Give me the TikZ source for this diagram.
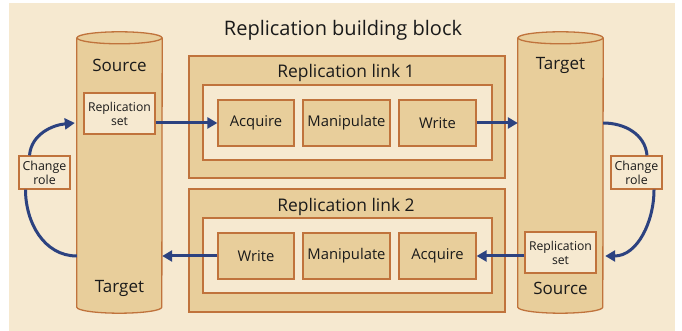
\documentclass[tikz,border=0pt]{standalone}
\usepackage{fontspec}
\setmainfont{Open Sans}
\usetikzlibrary{arrows.meta,calc}
\definecolor{paper}{HTML}{F6E9D0}
\definecolor{tan}{HTML}{E8CE9B}
\definecolor{rim}{HTML}{C0733C}
\definecolor{navy}{HTML}{2C4280}
\definecolor{ink}{HTML}{1A1A1A}
\begin{document}
\begin{tikzpicture}[x=1pt,y=1pt,
  every node/.style={text=ink, inner sep=0pt},
  cylbody/.style={minimum width=85pt, minimum height=269pt},
  cyl/.style={draw=rim, fill=tan, line width=1.3pt},
  outerbox/.style={draw=rim, fill=tan, line width=1.3pt, minimum width=316pt},
  innerbox/.style={draw=rim, fill=paper, line width=1.3pt, minimum width=289pt, minimum height=75pt},
  stage/.style={draw=rim, fill=tan, line width=1.3pt, minimum height=46pt, font=\fontsize{14.8}{16}\selectfont},
  setbox/.style={draw=rim, fill=paper, line width=1.3pt, minimum width=71pt, minimum height=41pt,
    align=center, font=\fontsize{12.2}{14}\selectfont},
  rolebox/.style={draw=rim, fill=paper, line width=1.3pt, minimum width=51pt, minimum height=33pt,
    align=center, font=\fontsize{12.4}{14}\selectfont},
  cyllabel/.style={font=\fontsize{17}{19}\selectfont},
  linktitle/.style={font=\fontsize{17.4}{19}\selectfont},
  flow/.style={draw=navy, line width=3pt, -{Triangle[length=10pt,width=11pt]}},
  flowplain/.style={draw=navy, line width=3pt}
]
\useasboundingbox (0,0) rectangle (682,331);
\fill[paper] (9,0) rectangle (675,328);

\node[font=\fontsize{20}{23}\selectfont] (title) at (343,301) {Replication building block};

% the two storage cylinders
\node[cylbody] (lcyl) at (119.5,158.5) {};
\node[cylbody] (rcyl) at (560.5,158.5) {};
\foreach \c in {lcyl,rcyl}{
  \draw[cyl] (\c.north west) -- (\c.south west)
    arc[start angle=180, end angle=360, x radius=42.5pt, y radius=6pt]
    -- (\c.north east);
  \draw[cyl] (\c.north) ellipse[x radius=42.5pt, y radius=6pt];
}
\node[cyllabel] (lsrc) at (119.5,266) {Source};
\node[cyllabel] (ltgt) at (119.5,43) {Target};
\node[cyllabel] (rtgt) at (560.5,266) {Target};
\node[cyllabel] (rsrc) at (560.5,43) {Source};
\node[setbox] (lset) at (119.5,217.5) {Replication\\set};
\node[setbox] (rset) at (560.5,78.5) {Replication\\set};

% replication link 1
\node[outerbox, minimum height=122pt] (link1) at (347,214) {};
\node[innerbox] (inner1) at (347.5,208.5) {};
\node[linktitle] (t1) at (346,258) {Replication link 1};
\node[stage, minimum width=76pt] (acq1) at (256,208) {Acquire};
\node[stage, minimum width=87pt] (man1) at (346.5,208) {Manipulate};
\node[stage, minimum width=77pt] (wri1) at (437.5,208) {Write};

% replication link 2
\node[outerbox, minimum height=123pt] (link2) at (347,80.5) {};
\node[innerbox] (inner2) at (347.5,75.5) {};
\node[linktitle] (t2) at (346,124) {Replication link 2};
\node[stage, minimum width=76pt] (wri2) at (256,75) {Write};
\node[stage, minimum width=87pt] (man2) at (346.5,75) {Manipulate};
\node[stage, minimum width=77pt] (acq2) at (437.5,75) {Acquire};

% role switches
\node[rolebox] (lchg) at (44.5,158.5) {Change\\role};
\node[rolebox] (rchg) at (636.5,158.5) {Change\\role};

% data flow
\draw[flow] (acq1.west -| lset.east) -- (acq1.west);
\draw[flow] (wri1.east) -- (wri1.east -| rcyl.west);
\draw[flow] (acq2.east -| rset.west) -- (acq2.east);
\draw[flow] (wri2.west) -- (wri2.west -| lcyl.east);

% role change loops
\draw[flow] ([xshift=-15pt]lchg.north) to[out=85, in=185] ([xshift=-2pt]acq1.west -| lcyl.west);
\draw[flowplain] ([xshift=-19pt]lchg.south) to[out=-90, in=180] (wri2.west -| lcyl.west);
\draw[flowplain] (wri1.east -| rcyl.east) to[out=0, in=95] ([xshift=10.5pt]rchg.north);
\draw[flow] ([xshift=17.5pt]rchg.south) to[out=-90, in=0] ([xshift=2pt]acq2.east -| rcyl.east);
\end{tikzpicture}
\end{document}
